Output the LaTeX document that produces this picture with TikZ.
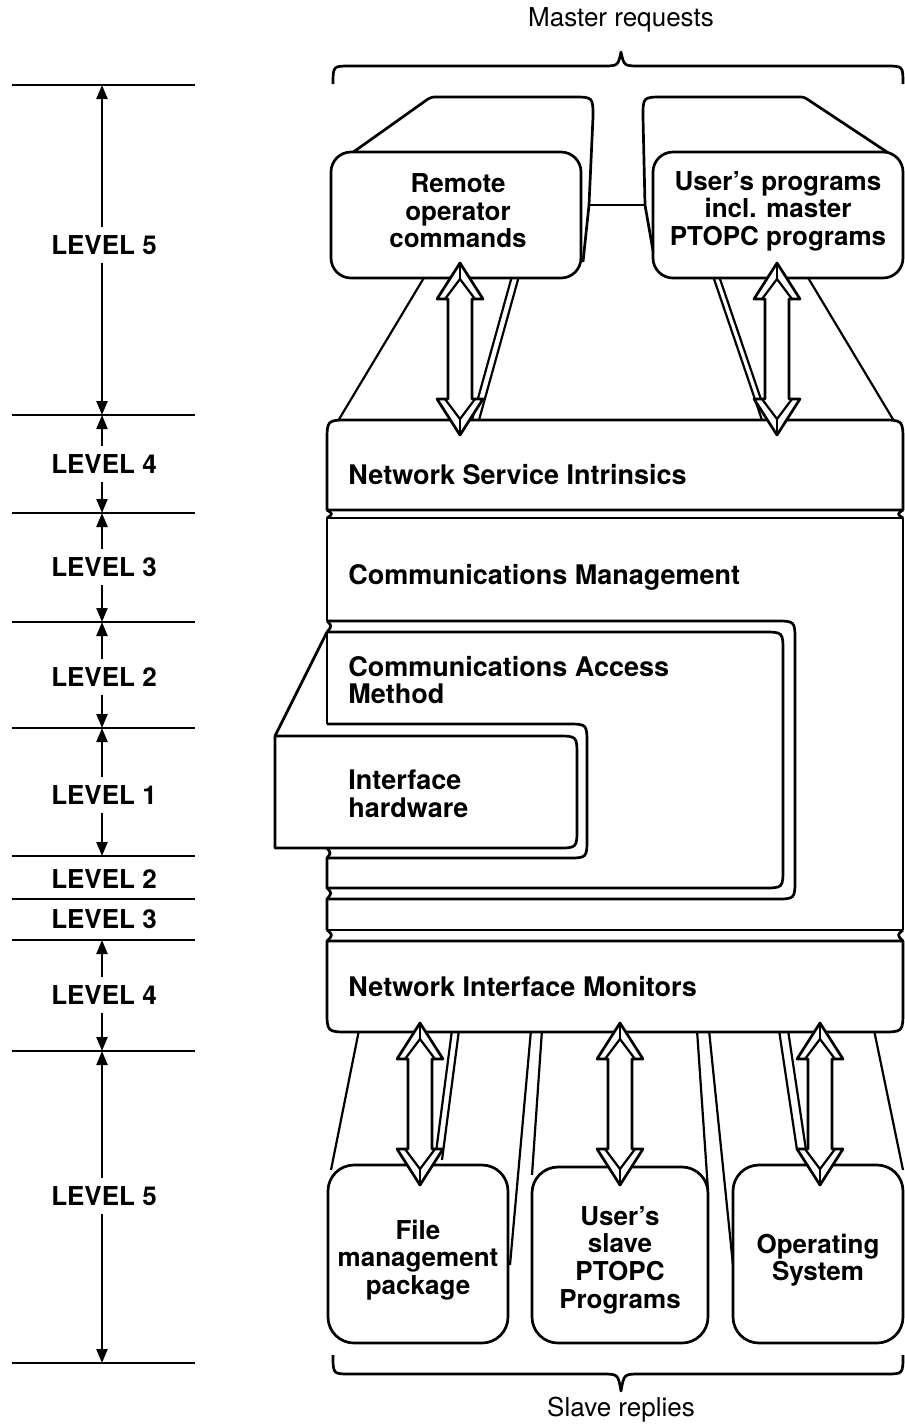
\documentclass[tikz,border=0pt]{standalone}
\usepackage{fontspec}
\setmainfont{TeX Gyre Heros}
\usetikzlibrary{arrows.meta}

% hollow double-headed arrow with bevelled heads: centre x, top tip y, bottom tip y
\newcommand\hollowarrow[3]{%
  \draw[arw] (#1,#2) -- ({#1+23},{#2+36}) -- ({#1+12},{#2+36}) -- ({#1+12},{#3-36})
    -- ({#1+23},{#3-36}) -- (#1,#3) -- ({#1-23},{#3-36}) -- ({#1-12},{#3-36})
    -- ({#1-12},{#2+36}) -- ({#1-23},{#2+36}) -- cycle;
  \draw[bev] ({#1-15},{#2+36}) -- (#1,{#2+16}) -- ({#1+15},{#2+36});
  \draw[bev] (#1,{#2+16}) -- (#1,#2);
  \draw[bev] ({#1-15},{#3-36}) -- (#1,{#3-16}) -- ({#1+15},{#3-36});
  \draw[bev] (#1,{#3-16}) -- (#1,#3);
}

\begin{document}
\begin{tikzpicture}[x=0.5pt,y=-0.5pt,line join=round,
  ln/.style={line width=1.35pt},
  thinln/.style={line width=1.1pt},
  lbl/.style={font=\bfseries\fontsize{13}{13.8}\selectfont,inner sep=0pt,align=center},
  lbll/.style={lbl,anchor=west,align=left,font=\bfseries\fontsize{13.5}{13.8}\selectfont},
  note/.style={font=\fontsize{13}{14}\selectfont,inner sep=0pt},
  dim/.style={line width=1.1pt,shorten <=4pt,-{Triangle[length=7pt,width=5.5pt]}},
  tick/.style={line width=1.1pt},
  arw/.style={line width=1.35pt,fill=white},
  bev/.style={line width=1.1pt}]

\useasboundingbox (0,0) rectangle (905,1426);

% ---------- level scale ----------
\foreach \y in {85,415,513,622,728,856,899,940,1051,1363}
  \draw[tick] (12,\y) -- (195,\y);

\foreach \n/\ya/\yb in {a/85/415, b/415/513, c/513/622, d/622/728,
                        e/728/856, h/940/1051, i/1051/1363}{
  \coordinate (up\n) at (102,\ya);
  \coordinate (dn\n) at (102,\yb);
}
\node[lbl] (lva) at (104,245) {LEVEL 5};
\node[lbl] (lvb) at (104,464) {LEVEL 4};
\node[lbl] (lvc) at (104,567) {LEVEL 3};
\node[lbl] (lvd) at (104,677) {LEVEL 2};
\node[lbl] (lve) at (104,795) {LEVEL 1};
\node[lbl] (lvf) at (104,879) {LEVEL 2};
\node[lbl] (lvg) at (104,919) {LEVEL 3};
\node[lbl] (lvh) at (104,995) {LEVEL 4};
\node[lbl] (lvi) at (104,1196) {LEVEL 5};
\foreach \n in {a,b,c,d,e,h,i}{
  \draw[dim] (lv\n.north -| up\n) -- (up\n);
  \draw[dim] (lv\n.south -| dn\n) -- (dn\n);
}

% ---------- braces ----------
\draw[ln] (333,84) .. controls (333,66) .. (350,66) -- (602,66)
  .. controls (618,66) .. (621,52) .. controls (624,66) .. (640,66)
  -- (886,66) .. controls (903,66) .. (903,84);
\node[note] (mreq) at (621,20) {Master requests};
\draw[ln] (333,1355) .. controls (333,1374) .. (350,1374) -- (602,1374)
  .. controls (618,1374) .. (621,1391) .. controls (624,1374) .. (640,1374)
  -- (886,1374) .. controls (903,1374) .. (903,1355);
\node[note] (srep) at (621,1410) {Slave replies};

% ---------- columns between boxes and the stack ----------
\draw[thinln] (425,276) -- (335,426);
\draw[thinln] (512,276) -- (472,420);
\draw[thinln] (519,276) -- (479,420);
\draw[thinln] (713,276) -- (762,420);
\draw[thinln] (719,276) -- (768,420);
\draw[thinln] (807,276) -- (897,426);

\draw[thinln] (359,1030) -- (331,1170);
\draw[thinln] (452,1030) -- (435,1160);
\draw[thinln] (459,1030) -- (442,1160);
\draw[thinln] (531,1030) -- (510,1265);
\draw[thinln] (542,1030) -- (532,1175);
\draw[thinln] (697,1030) -- (708,1190);
\draw[thinln] (709,1030) -- (733,1265);
\draw[thinln] (779,1030) -- (797,1150);
\draw[thinln] (788,1030) -- (806,1150);
\draw[thinln] (874,1030) -- (903,1170);

% ---------- top boxes ----------
\draw[ln] (352,153) -- (428,99) .. controls (432,97) .. (438,97) -- (573,97)
  .. controls (593,97) .. (593,117) -- (589,205) -- (583,262);
\draw[ln] (655,262) -- (645,205) -- (643,117) .. controls (643,97) .. (663,97)
  -- (798,97) .. controls (804,97) .. (810,101) -- (890,154);
\draw[ln,fill=white,rounded corners=10pt] (331,152) rectangle (581,278);
\draw[ln,fill=white,rounded corners=10pt] (653,152) rectangle (903,278);
\coordinate (ja) at (589,205);
\coordinate (jb) at (645,205);
\draw[ln] (ja) -- (jb);
\node[lbl] (roc) at (458,211) {Remote\\operator\\commands};
\node[lbl] (upm) at (778,211) {User’s programs\\incl. master\\PTOPC programs};

% ---------- layered stack ----------
% network service intrinsics slab
\draw[ln,fill=white] (327,510) -- (327,442) .. controls (327,420) .. (349,420)
  -- (881,420) .. controls (903,420) .. (903,442) -- (903,510) -- cycle;
\draw[ln] (327,510) .. controls (333,514) .. (327,518);
\draw[ln] (903,510) .. controls (897,514) .. (903,518);
% communications management slab
\draw[ln] (327,621) -- (327,518) -- (903,518) -- (903,930);
\draw[ln] (327,621) .. controls (332,626) .. (327,632);
% communications access method (double outline)
\draw[ln] (327,621) -- (775,621) .. controls (795,621) .. (795,641) -- (795,879)
  .. controls (795,899) .. (775,899) -- (327,899);
\draw[ln] (327,632) -- (763,632) .. controls (783,632) .. (783,652) -- (783,868)
  .. controls (783,888) .. (763,888) -- (327,888);
\draw[ln] (327,632) -- (327,724);
% interface hardware (double outline, front face)
\draw[ln,fill=white] (327,724) -- (567,724) .. controls (587,724) .. (587,744)
  -- (587,838) .. controls (587,858) .. (567,858) -- (327,858);
\draw[ln,fill=white] (275,736) -- (557,736) .. controls (577,736) .. (577,756)
  -- (577,828) .. controls (577,848) .. (557,848) -- (275,848) -- cycle;
\draw[ln] (275,736) -- (327,632);
\draw[ln] (327,848) .. controls (331,853) .. (327,858) -- (327,888)
  .. controls (332,893) .. (327,899) -- (327,930);
\draw[ln] (327,930) -- (903,930);
\draw[ln] (327,930) .. controls (333,935) .. (327,941);
\draw[ln] (903,930) .. controls (897,935) .. (903,941);
% network interface monitors slab
\draw[ln,fill=white] (327,941) -- (903,941) -- (903,1010) .. controls (903,1032) .. (881,1032)
  -- (349,1032) .. controls (327,1032) .. (327,1010) -- cycle;

\node[lbll] (nsi) at (348,475) {Network Service Intrinsics};
\node[lbll] (cmg) at (348,577) {Communications Management};
\node[lbll] (cam) at (348,680) {Communications Access\\Method};
\node[lbll] (ihw) at (348,794) {Interface\\hardware};
\node[lbll] (nim) at (348,987) {Network Interface Monitors};

% ---------- bottom boxes ----------
\draw[ln,fill=white,rounded corners=13pt] (328,1165) rectangle (508,1343);
\draw[ln,fill=white,rounded corners=13pt] (532,1167) rectangle (708,1343);
\draw[ln,fill=white,rounded corners=13pt] (733,1165) rectangle (903,1343);
\node[lbl] (fmp) at (418,1260) {File\\management\\package};
\node[lbl] (usp) at (620,1260) {User’s\\slave\\PTOPC\\Programs};
\node[lbl] (osy) at (818,1260) {Operating\\System};

% ---------- data-flow arrows ----------
\hollowarrow{460}{263}{435}
\hollowarrow{777}{263}{435}
\hollowarrow{420}{1023}{1185}
\hollowarrow{620}{1023}{1185}
\hollowarrow{820}{1023}{1185}

\end{tikzpicture}
\end{document}
